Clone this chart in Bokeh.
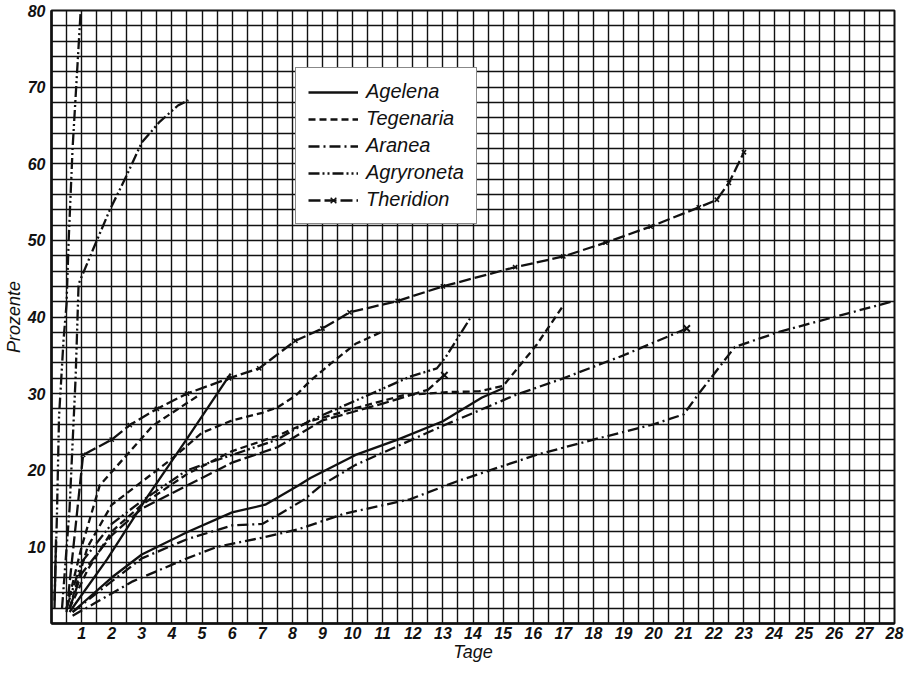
from bokeh.plotting import figure
from bokeh.models import FixedTicker, SingleIntervalTicker, Legend, LegendItem, Range1d
from bokeh.embed import file_html
from bokeh.resources import INLINE

# ---------------- data (days, percent) ----------------
x_ticks = list(range(1, 29))
y_ticks = [10, 20, 30, 40, 50, 60, 70, 80]

# Agelena (solid)
agelena1_x = [0.6, 1.85, 3.16, 4.48, 5.95]
agelena1_y = [1.5, 8.4, 16.4, 24.0, 32.6]
agelena2_x = [0.7, 2.0, 3.0, 4.5, 6.0, 7.1, 8.2, 8.6, 10.1, 11.5, 13.0, 14.3, 15.0]
agelena2_y = [1.5, 6.0, 9.0, 11.9, 14.5, 15.5, 18.0, 19.0, 22.0, 24.0, 26.4, 29.5, 30.7]
agelena3_x = [0.1, 0.15]
agelena3_y = [2.0, 11.0]

# Tegenaria (dashed)
tegenaria1_x = [0.5, 1.0, 1.6, 2.5, 3.36, 4.2, 4.9]
tegenaria1_y = [2.0, 10.0, 18.0, 22.0, 25.8, 28.0, 29.8]
tegenaria2_x = [0.6, 1.2, 2.0, 3.0, 4.0, 5.0, 6.0, 7.0, 7.5, 8.1, 8.6, 9.3, 10.1, 11.05]
tegenaria2_y = [2.0, 10.0, 15.5, 18.5, 21.5, 24.9, 26.5, 27.5, 28.2, 29.7, 31.7, 34.0, 36.5, 38.2]
tegenaria3_x = [0.6, 1.2, 2.0, 3.0, 4.5, 6.0, 7.5, 8.6, 10.0, 11.7, 13.2, 14.2, 15.0, 16.1, 17.0]
tegenaria3_y = [2.0, 7.0, 12.0, 15.5, 19.5, 22.5, 24.5, 26.4, 28.0, 29.8, 30.2, 30.3, 31.0, 36.3, 41.5]

# Aranea (dash-dot)
aranea1_x = [0.7, 1.5, 2.7, 4.5, 5.5, 7.0, 8.2, 9.7, 11.9, 13.5, 16.1, 18.0, 20.0, 21.0, 21.5, 22.7, 24.2, 26.0, 28.0]
aranea1_y = [1.0, 2.8, 5.5, 8.5, 10.0, 11.2, 12.3, 14.3, 16.2, 18.6, 22.0, 24.0, 26.0, 27.3, 30.0, 36.1, 38.1, 40.0, 42.1]
aranea2_x = [0.7, 2.0, 3.0, 4.5, 6.0, 7.0, 7.5, 8.4, 8.95, 10.1, 13.0, 15.4, 17.0, 19.0, 21.1]
aranea2_y = [1.5, 5.5, 8.5, 11.0, 12.8, 13.0, 14.1, 16.2, 18.0, 20.7, 25.8, 29.8, 32.0, 35.0, 38.5]

# Agryroneta (dash-dot-dot)
agryroneta1_x = [0.1, 0.18, 0.25, 0.4, 0.5, 0.57, 0.7, 0.85, 0.97]
agryroneta1_y = [3.0, 14.0, 27.0, 37.0, 41.7, 50.0, 62.0, 72.0, 80.0]
agryroneta2_x = [0.35, 0.6, 0.8, 0.9, 1.4, 1.94, 2.5, 3.0, 3.6, 4.2, 4.55]
agryroneta2_y = [2.0, 15.0, 32.0, 44.3, 49.0, 54.0, 58.5, 62.8, 65.5, 67.6, 68.3]
agryroneta3_x = [0.5, 1.0, 2.0, 3.0, 4.5, 6.0, 7.5, 8.6, 10.4, 11.9, 12.8, 13.1, 13.9]
agryroneta3_y = [2.0, 8.0, 13.0, 16.0, 20.0, 22.0, 24.0, 26.5, 29.6, 32.2, 33.3, 34.8, 39.8]

# Theridion (line with crosses)
theridion1_x = [0.5, 1.05, 2.0, 2.6, 3.5, 4.5, 5.9, 6.9, 8.1, 9.0, 9.9, 11.5, 13.0, 15.4, 17.0, 18.4, 19.9, 21.5, 22.1, 22.5, 23.0]
theridion1_y = [1.5, 22.0, 24.0, 25.9, 28.0, 30.0, 32.0, 33.3, 36.9, 38.5, 40.6, 42.1, 44.0, 46.5, 47.9, 49.7, 51.8, 54.3, 55.3, 57.5, 61.5]
theridion2_x = [0.6, 1.0, 2.0, 3.0, 4.5, 6.0, 7.5, 9.0, 11.0, 12.5, 13.05]
theridion2_y = [2.0, 6.5, 11.5, 15.0, 18.0, 21.0, 23.0, 26.5, 28.7, 30.5, 32.4]

species = ["Agelena", "Tegenaria", "Aranea", "Agryroneta", "Theridion"]

# ---------------- styles ----------------
FONT = "Liberation Sans"
INK = "#111111"
LW = 2.3
dash = {"Agelena": "solid", "Tegenaria": "7 4", "Aranea": "11 4 2 4",
        "Agryroneta": "11 3 2 3 2 3", "Theridion": "12 4"}

p = figure(width=904, height=664, x_range=Range1d(0, 28), y_range=Range1d(0, 80),
           output_backend="svg", toolbar_location=None,
           min_border_left=43, min_border_right=10, min_border_top=10, min_border_bottom=40,
           background_fill_color="white", border_fill_color="white")

p.outline_line_color = INK
p.outline_line_width = 2

p.xaxis.ticker = FixedTicker(ticks=x_ticks)
p.yaxis.ticker = FixedTicker(ticks=y_ticks)
p.xgrid.ticker = SingleIntervalTicker(interval=0.5)
p.ygrid.ticker = SingleIntervalTicker(interval=2)
for g in (p.xgrid, p.ygrid):
    g.grid_line_color = INK
    g.grid_line_width = 1.4
    g.grid_line_alpha = 1.0

for ax in (p.xaxis, p.yaxis):
    ax.axis_line_color = INK
    ax.axis_line_width = 2.5
    ax.major_tick_out = 0
    ax.major_tick_in = 0
    ax.minor_tick_out = 0
    ax.minor_tick_in = 0
    ax.major_label_text_font = FONT
    ax.major_label_text_font_style = "bold italic"
    ax.major_label_text_font_size = "16px"
    ax.major_label_text_color = INK
    ax.axis_label_text_font = FONT
    ax.axis_label_text_font_style = "italic"
    ax.axis_label_text_font_size = "18px"
    ax.axis_label_text_color = INK

p.xaxis.major_label_standoff = 3
p.xaxis.axis_label = "Tage"
p.xaxis.axis_label_standoff = 0
p.yaxis.major_label_standoff = 6
p.yaxis.axis_label = "Prozente"
p.yaxis.axis_label_standoff = 1

def draw(xs, ys, sp):
    return p.line(xs, ys, line_color=INK, line_width=LW, line_dash=dash[sp])

rA = [draw(agelena1_x, agelena1_y, "Agelena"),
      draw(agelena2_x, agelena2_y, "Agelena"),
      draw(agelena3_x, agelena3_y, "Agelena")]
rT = [draw(tegenaria1_x, tegenaria1_y, "Tegenaria"),
      draw(tegenaria2_x, tegenaria2_y, "Tegenaria"),
      draw(tegenaria3_x, tegenaria3_y, "Tegenaria")]
rR = [draw(aranea1_x, aranea1_y, "Aranea"),
      draw(aranea2_x, aranea2_y, "Aranea")]
p.scatter([aranea2_x[-1]], [aranea2_y[-1]], marker="x", size=9, line_color=INK, line_width=2)
rG = [draw(agryroneta1_x, agryroneta1_y, "Agryroneta"),
      draw(agryroneta2_x, agryroneta2_y, "Agryroneta"),
      draw(agryroneta3_x, agryroneta3_y, "Agryroneta")]
rH = [draw(theridion1_x, theridion1_y, "Theridion"),
      draw(theridion2_x, theridion2_y, "Theridion")]
mH1 = p.scatter(theridion1_x[1:], theridion1_y[1:], marker="x", size=6, line_color=INK, line_width=1.5)
mH2 = p.scatter([theridion2_x[-1]], [theridion2_y[-1]], marker="x", size=9, line_color=INK, line_width=2)

items = [LegendItem(label=species[0], renderers=[rA[0]]),
         LegendItem(label=species[1], renderers=[rT[0]]),
         LegendItem(label=species[2], renderers=[rR[0]]),
         LegendItem(label=species[3], renderers=[rG[0]]),
         LegendItem(label=species[4], renderers=[rH[0], mH1])]
legend = Legend(items=items, location=(244, 399))
legend.label_text_font = FONT
legend.label_text_font_style = "italic"
legend.label_text_font_size = "20px"
legend.label_text_color = INK
legend.glyph_width = 50
legend.glyph_height = 20
legend.spacing = 4
legend.padding = 12
legend.margin = 0
legend.label_standoff = 8
legend.border_line_color = INK
legend.border_line_width = 1.5
legend.background_fill_color = "white"
legend.background_fill_alpha = 1.0
p.add_layout(legend)

open("out.html", "w").write(file_html(p, INLINE))
